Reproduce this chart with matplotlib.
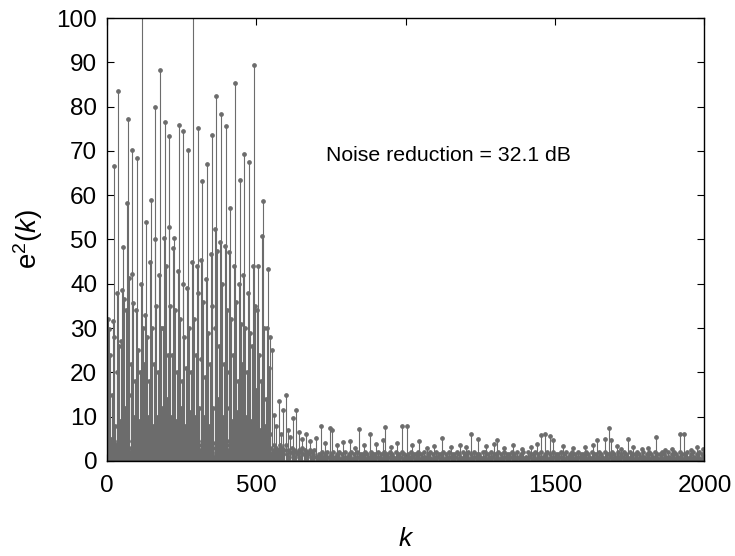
import numpy as np
import matplotlib.pyplot as plt

plt.rcParams['font.family'] = 'Liberation Sans'
plt.rcParams['mathtext.fontset'] = 'custom'
plt.rcParams['mathtext.rm'] = 'Liberation Sans'
plt.rcParams['mathtext.it'] = 'Liberation Sans:italic'

# big error bursts during adaptation (k < 540), one column every ~16 samples
col_k = [7, 22, 38, 53, 69, 85, 100, 116, 131, 147, 162, 178, 194, 209, 225,
         241, 256, 272, 288, 303, 319, 334, 350, 366, 381, 397, 413, 428, 444,
         459, 475, 491, 506, 522, 538]
col_vals = [
    [29.9, 32.0, 24.0, 16.0, 5.0],
    [66.6, 31.7, 28.0, 15.0, 8.0],
    [83.5, 38.0, 26.0, 20.0, 9.0],
    [48.4, 38.5, 36.6, 27.0, 12.0],
    [77.1, 58.3, 41.2, 34.0, 15.0],
    [70.3, 42.3, 35.6, 22.0, 10.0],
    [68.5, 34.0, 25.0, 18.0, 9.0],
    [128.0, 40.0, 30.0, 20.0, 8.0],
    [54.0, 33.0, 28.0, 22.0, 10.0],
    [59.0, 45.0, 30.0, 18.0, 8.0],
    [80.0, 50.0, 35.0, 22.0, 10.0],
    [88.3, 42.0, 30.0, 20.0, 12.0],
    [76.6, 50.4, 44.0, 30.0, 14.0],
    [73.4, 52.8, 35.0, 24.0, 10.0],
    [50.4, 48.0, 34.0, 24.0, 9.0],
    [75.8, 43.0, 32.0, 20.0, 12.0],
    [74.5, 40.0, 28.0, 18.0, 8.0],
    [70.2, 39.0, 30.0, 21.0, 11.0],
    [120.0, 45.0, 32.0, 20.0, 10.0],
    [75.1, 44.0, 38.0, 24.0, 12.0],
    [63.3, 45.4, 36.0, 23.0, 10.0],
    [67.0, 41.0, 29.0, 19.0, 8.0],
    [73.6, 46.8, 35.0, 22.0, 12.0],
    [82.5, 52.4, 47.3, 30.0, 14.0],
    [78.3, 49.4, 40.0, 26.0, 10.0],
    [75.6, 48.5, 34.0, 22.0, 12.0],
    [57.0, 47.1, 32.0, 20.0, 9.0],
    [85.4, 44.0, 36.0, 24.0, 11.0],
    [63.5, 40.0, 31.0, 18.0, 8.0],
    [69.2, 42.0, 30.0, 22.0, 10.0],
    [67.6, 38.0, 29.0, 20.0, 9.0],
    [89.4, 44.0, 35.0, 26.0, 12.0],
    [44.0, 34.0, 24.0, 16.0, 7.0],
    [58.7, 50.9, 30.0, 18.0, 8.0],
    [43.3, 30.0, 21.0, 14.0, 6.0],
]

# residual peaks after convergence
low_k = [545, 552, 559, 566, 576, 583, 589, 598, 606, 614, 623, 632, 641, 652,
         665, 680, 700, 715, 730, 746, 753, 770, 790, 813, 830, 843, 860, 879,
         900, 923, 932, 950, 970, 989, 1003, 1020, 1045, 1070, 1095, 1120, 1150,
         1180, 1200, 1217, 1242, 1270, 1295, 1306, 1330, 1360, 1390, 1420, 1440,
         1453, 1466, 1482, 1494, 1525, 1560, 1600, 1628, 1641, 1666, 1679, 1687,
         1706, 1720, 1744, 1760, 1790, 1810, 1838, 1868, 1890, 1918, 1931, 1955,
         1976, 1995]
low_v = [28.0, 25.0, 10.4, 8.0, 13.5, 6.0, 11.6, 14.8, 7.0, 5.5, 9.8, 11.4, 6.5,
         5.0, 6.2, 4.5, 5.2, 7.8, 4.0, 7.5, 7.1, 3.5, 4.2, 4.5, 3.0, 7.3, 3.5, 6.2,
         3.8, 4.7, 7.6, 3.2, 4.0, 7.8, 7.8, 3.5, 4.6, 3.0, 3.4, 5.3, 3.2, 3.6, 3.1,
         6.0, 5.0, 3.3, 3.9, 4.7, 3.0, 3.6, 2.8, 3.2, 3.9, 5.9, 6.2, 5.6, 4.7, 3.3,
         2.9, 3.1, 3.7, 4.7, 4.9, 7.5, 4.7, 3.3, 2.8, 4.9, 3.2, 2.6, 2.9, 5.5, 2.4,
         2.7, 6.1, 6.1, 2.5, 3.2, 2.8]

# background floor, one digit per 4 samples (value = digit / 2)
base_levels = (
    "58364957286495738264958372649583726495837264958372"
    "64957382649573826495738264957382649573826495738264"
    "95738264957382649573826495738264957463574635746357"
    "35246352435246352435243522132421324213142132413214"
    "21324132142313241321423132412314213241321421324132"
    "13214231324132142132413214231324132142313241321423"
    "32413214231321424132142313241321423132413214213241"
    "21423132413214213241321423132412314213241321423132"
    "41321423132413214231324132142132413214231324132142"
    "13241321423132413214213241321423132412314213241321"
)

col_offsets = [0, -3, 3, -6, 6]

k_all = []
v_all = []
for i, ch in enumerate(base_levels):
    k_all.append(i * 4 + 2)
    v_all.append(int(ch) / 2)
for kc, vals in zip(col_k, col_vals):
    for off, v in zip(col_offsets, vals):
        k_all.append(kc + off)
        v_all.append(v)
k_all += low_k
v_all += low_v

fig = plt.figure(figsize=(7.35, 5.56), dpi=100)
ax = fig.add_axes([0.1456, 0.1709, 0.8129, 0.7967])

grey = '#6c6c6c'
ml, sl, bl = ax.stem(k_all, v_all, linefmt='-', markerfmt='o', basefmt='-')
plt.setp(sl, color=grey, linewidth=0.8)
plt.setp(ml, color=grey, markersize=2.4)
plt.setp(bl, color='#555555', linewidth=1.2)

ax.set_xlim(0, 2000)
ax.set_ylim(0, 100)
ax.set_xticks([0, 500, 1000, 1500, 2000])
ax.set_yticks(np.arange(0, 101, 10))
ax.tick_params(direction='in', top=True, right=True, labelsize=17.5, length=5)
ax.tick_params(axis='x', pad=10)
ax.tick_params(axis='y', pad=7)
for s in ax.spines.values():
    s.set_linewidth(1.0)

ax.set_xlabel('$k$', fontsize=19, labelpad=22)
ax.set_ylabel('e$^2$($k$)', fontsize=20, labelpad=8)
ax.text(733, 69, 'Noise reduction = 32.1 dB', fontsize=15.3, va='center', ha='left')

fig.savefig('out.png', dpi=100)
